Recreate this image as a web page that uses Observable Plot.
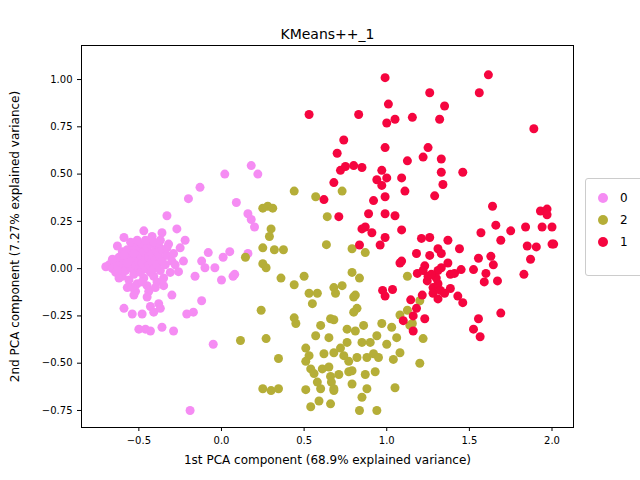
<!DOCTYPE html>
<html><head><meta charset="utf-8">
<script src="https://cdn.jsdelivr.net/npm/d3@7"></script>
<script src="https://cdn.jsdelivr.net/npm/@observablehq/plot@0.6"></script>
<style>
body{margin:0;background:#fff;font-family:"DejaVu Sans",sans-serif}
#wrap{position:relative;width:640px;height:480px}
#legend{position:absolute;left:585px;top:178px;width:70px;height:96px;border:1px solid #ccc;border-radius:3px;background:#fff;font-size:12px}
#legend div{height:22px;line-height:22px;margin-top:8px;padding-left:12px}
#legend span{display:inline-block;width:10px;height:10px;border-radius:50%;margin-right:12px;vertical-align:-1px}
</style></head>
<body><div id="wrap"><div id="chart"></div><div id="legend"></div></div>
<script>
const title = "KMeans++_1";
const xLabel = "1st PCA component (68.9% explained variance)";
const yLabel = "2nd PCA component (7.27% explained variance)";
const clusterOrder = ["0", "2", "1"];
const clusterColors = ["#f58cf3", "#b5ae38", "#f5053f"];
const xTicks = [-0.5, 0.0, 0.5, 1.0, 1.5, 2.0];
const yTicks = [-0.75, -0.5, -0.25, 0.0, 0.25, 0.5, 0.75, 1.0];

// cluster 0 (pink)
const pink = [
[-0.7,0.01],[-0.68,0.02],[-0.66,0.0],[-0.65,0.04],[-0.64,-0.02],[-0.63,0.03],[-0.62,0.06],[-0.61,0.0],[-0.6,-0.04],[-0.6,0.09],
[-0.59,0.03],[-0.58,0.05],[-0.58,-0.01],[-0.57,0.1],[-0.56,0.02],[-0.56,-0.06],[-0.55,0.07],[-0.54,0.0],[-0.54,0.04],[-0.53,0.12],
[-0.53,-0.03],[-0.52,0.06],[-0.52,0.02],[-0.51,-0.08],[-0.5,0.1],[-0.5,0.0],[-0.5,0.04],[-0.49,-0.02],[-0.49,0.07],[-0.48,0.13],
[-0.48,0.03],[-0.47,-0.05],[-0.47,0.09],[-0.46,0.0],[-0.46,0.05],[-0.45,0.11],[-0.45,-0.09],[-0.44,0.02],[-0.44,0.06],[-0.43,-0.02],
[-0.43,0.13],[-0.42,0.04],[-0.42,0.08],[-0.41,-0.04],[-0.41,0.0],[-0.4,0.1],[-0.4,0.05],[-0.39,-0.07],[-0.39,0.02],[-0.38,0.12],
[-0.38,0.07],[-0.37,-0.01],[-0.36,0.04],[-0.36,0.1],[-0.35,-0.05],[-0.34,0.02],[-0.33,0.07],[-0.32,0.13],[-0.31,-0.02],[-0.3,0.04],
[-0.62,-0.05],[-0.57,-0.1],[-0.52,-0.12],[-0.48,-0.07],[-0.44,-0.12],[-0.4,-0.1],[-0.35,-0.09],[-0.55,0.14],[-0.51,0.15],[-0.46,0.15],
[-0.41,0.14],[-0.37,0.15],[-0.33,0.11],[-0.29,0.08],[-0.28,0.02],[-0.66,0.05],[-0.63,-0.01],[-0.59,0.07],[-0.57,0.03],[-0.53,0.08],
[-0.47,0.2],[-0.36,0.19],[-0.42,0.17],[-0.59,0.165],[-0.63,0.12],[-0.27,0.21],[-0.22,0.15],[-0.25,0.11],[-0.23,0.04],[-0.26,-0.016],
[-0.33,0.28],[-0.2,0.37],[-0.13,0.43],[0.02,0.5],[0.18,0.545],[0.22,0.5],[0.09,0.35],[0.16,0.29],[0.18,0.26],[0.2,0.22],
[-0.08,0.085],[0.05,0.09],[0.01,0.06],[-0.12,0.04],[-0.1,0.005],[-0.04,0.005],[-0.16,-0.04],[0.0,-0.06],[0.07,-0.04],[0.08,-0.03],
[0.16,0.08],[-0.12,-0.17],[-0.21,-0.24],[-0.17,-0.23],[-0.3,-0.14],[-0.29,-0.33],[-0.5,-0.32],[-0.46,-0.32],[-0.43,-0.33],[-0.36,-0.31],
[-0.59,-0.21],[-0.54,-0.24],[-0.48,-0.24],[-0.43,-0.2],[-0.41,-0.23],[-0.38,-0.185],[-0.37,-0.21],[-0.53,-0.14],[-0.45,-0.15],[-0.54,-0.1],
[-0.05,-0.4],[-0.19,-0.75]
];
// cluster 2 (olive)
const olive = [
[0.44,0.41],[0.57,0.38],[0.73,0.41],[0.28,0.33],[0.31,0.32],[0.25,0.32],[0.64,0.275],[0.3,0.21],[0.29,0.17],[0.25,0.11],
[0.32,0.1],[0.375,0.1],[0.145,0.06],[0.635,0.127],[0.79,0.105],[0.87,0.085],[0.25,0.026],[0.27,0.005],[0.36,-0.05],[0.5,-0.04],
[0.44,-0.085],[0.53,-0.13],[0.58,-0.13],[0.55,-0.185],[0.68,-0.1],[0.73,-0.09],[0.69,-0.13],[0.79,-0.02],[0.835,-0.05],[0.81,-0.14],
[0.8,-0.15],[0.82,-0.21],[0.8,-0.23],[1.125,-0.04],[0.24,-0.22],[0.115,-0.38],[0.44,-0.26],[0.45,-0.29],[0.66,-0.265],[0.68,-0.27],
[0.76,-0.32],[0.81,-0.33],[0.86,-0.3],[0.97,-0.29],[1.03,-0.31],[1.08,-0.245],[1.125,-0.22],[1.155,-0.29],[1.2,-0.17],[1.14,-0.3],
[1.22,-0.37],[0.27,-0.37],[0.57,-0.355],[0.65,-0.365],[0.76,-0.39],[0.85,-0.39],[0.9,-0.39],[0.94,-0.355],[1.0,-0.4],[1.06,-0.365],
[0.51,-0.42],[0.53,-0.46],[0.51,-0.49],[0.62,-0.45],[0.68,-0.445],[0.74,-0.46],[0.77,-0.49],[0.82,-0.47],[0.88,-0.47],[0.92,-0.45],
[1.04,-0.48],[1.08,-0.445],[1.2,-0.5],[0.345,-0.475],[0.54,-0.53],[0.56,-0.555],[0.61,-0.53],[0.65,-0.52],[0.66,-0.57],[0.77,-0.545],
[0.79,-0.54],[0.93,-0.545],[0.665,-0.6],[0.79,-0.61],[0.25,-0.635],[0.3,-0.645],[0.345,-0.635],[0.51,-0.64],[0.6,-0.635],[0.68,-0.645],
[0.68,-0.635],[0.88,-0.635],[1.05,-0.63],[0.85,-0.68],[0.54,-0.73],[0.59,-0.7],[0.66,-0.715],[0.835,-0.75],[0.94,-0.75],[0.71,-0.56],
[0.58,-0.6],[0.72,-0.42],[0.95,-0.47],[0.6,-0.3],[0.87,-0.56]
];
// cluster 1 (red)
const red = [
[0.99,1.01],[1.615,1.025],[1.26,0.93],[1.56,0.93],[1.01,0.87],[1.35,0.86],[0.53,0.815],[0.83,0.815],[1.0,0.77],[1.05,0.79],
[1.155,0.8],[1.32,0.79],[1.89,0.74],[0.74,0.68],[0.7,0.61],[0.99,0.64],[1.25,0.64],[1.22,0.59],[1.125,0.57],[1.33,0.58],
[0.72,0.52],[0.75,0.54],[0.8,0.545],[0.85,0.535],[0.97,0.52],[0.94,0.47],[1.0,0.48],[0.97,0.44],[1.09,0.48],[1.33,0.51],
[1.34,0.445],[1.46,0.51],[0.68,0.455],[1.11,0.41],[1.29,0.385],[0.62,0.365],[0.92,0.36],[0.99,0.38],[0.71,0.275],[0.89,0.29],
[0.99,0.29],[1.05,0.28],[1.09,0.205],[0.85,0.21],[0.87,0.22],[0.91,0.19],[0.99,0.165],[0.96,0.125],[0.835,0.125],[1.64,0.33],
[1.66,0.23],[1.57,0.19],[1.75,0.2],[1.84,0.22],[1.69,0.15],[1.93,0.305],[1.97,0.315],[1.97,0.285],[1.94,0.22],[2.0,0.22],
[2.0,0.13],[2.01,0.13],[1.85,0.12],[1.905,0.115],[1.87,0.05],[1.83,-0.03],[1.21,0.16],[1.26,0.165],[1.37,0.15],[1.44,0.105],
[1.18,0.08],[1.26,0.07],[1.31,0.105],[1.33,0.08],[1.09,0.04],[1.08,0.03],[1.23,0.015],[1.37,0.03],[1.33,0.005],[1.31,-0.01],
[1.185,-0.025],[1.22,-0.01],[1.385,-0.03],[1.41,-0.025],[1.45,-0.005],[1.525,-0.005],[1.555,0.055],[1.63,0.065],[1.645,0.02],[1.6,-0.025],
[1.59,-0.07],[1.67,-0.065],[1.245,-0.065],[1.28,-0.1],[1.31,-0.08],[1.28,-0.13],[1.325,-0.115],[1.35,-0.13],[1.385,-0.105],[1.31,-0.16],
[1.43,-0.145],[1.46,-0.18],[1.215,-0.14],[0.975,-0.115],[1.035,-0.11],[0.99,-0.145],[1.145,-0.165],[1.18,-0.21],[1.16,-0.25],[1.23,-0.265],
[1.1,-0.275],[1.16,-0.33],[1.555,-0.265],[1.69,-0.235],[1.525,-0.32],[1.565,-0.36],[1.25,-0.04],[1.3,-0.05],[1.27,-0.03]
];

const data = [
  ...pink.map(([x, y]) => ({x, y, c: "0"})),
  ...olive.map(([x, y]) => ({x, y, c: "2"})),
  ...red.map(([x, y]) => ({x, y, c: "1"}))
];

const plot = Plot.plot({
  width: 640, height: 480,
  marginLeft: 81, marginRight: 67, marginTop: 45, marginBottom: 53,
  style: {fontFamily: "DejaVu Sans", fontSize: "10px", color: "#000", overflow: "visible"},
  x: {domain: [-0.847, 2.13], ticks: xTicks, tickFormat: d3.format(".1f"), label: null, tickSize: 4},
  y: {domain: [-0.84, 1.18], ticks: yTicks, tickFormat: d3.format(".2f"), label: null, tickSize: 4},
  color: {domain: clusterOrder, range: clusterColors},
  marks: [
    Plot.dot(data, {x: "x", y: "y", fill: "c", r: 4.5}),
    Plot.frame({stroke: "#000"}),
    Plot.text([title], {frameAnchor: "top", dy: -7, lineAnchor: "bottom", fontSize: 14}),
    Plot.text([xLabel], {frameAnchor: "bottom", dy: 36, fontSize: 12}),
    Plot.text([yLabel], {frameAnchor: "left", dx: -66, rotate: -90, textAnchor: "middle", fontSize: 12})
  ]
});
document.querySelector("#chart").append(plot);

const legend = document.querySelector("#legend");
clusterOrder.forEach((c, i) => {
  const row = document.createElement("div");
  if (i > 0) row.style.marginTop = "0px";
  row.innerHTML = `<span style="background:${clusterColors[i]}"></span>${c}`;
  legend.append(row);
});
</script></body></html>
